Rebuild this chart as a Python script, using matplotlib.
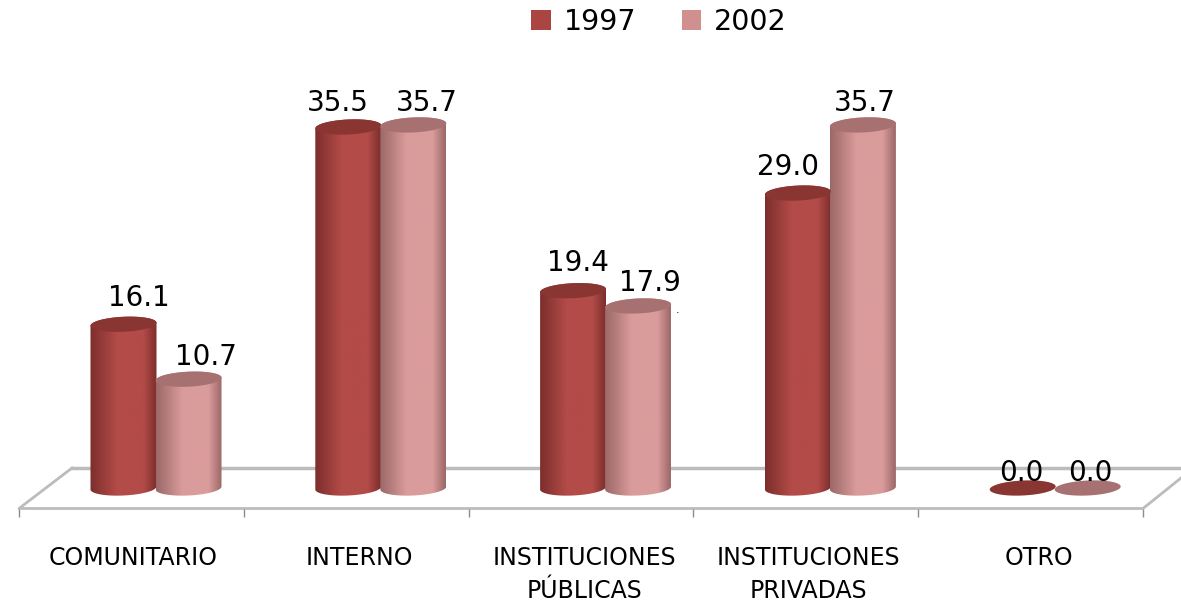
#!/usr/bin/env python3
"""3D looking cylinder chart, 1997 against 2002, by category."""
import numpy as np
import matplotlib
matplotlib.use('Agg')
import matplotlib.pyplot as plt
from matplotlib.colors import LinearSegmentedColormap
from matplotlib.patches import Patch, PathPatch
from matplotlib.path import Path
#-------------------------------------------------------------------------#
# Data                                                                    #
#-------------------------------------------------------------------------#
categories  = ['COMUNITARIO', 'INTERNO', 'INSTITUCIONES\nPÚBLICAS',
               'INSTITUCIONES\nPRIVADAS', 'OTRO']
years       = ['1997', '2002']
values_1997 = [16.1, 35.5, 19.4, 29.0, 0.0]
values_2002 = [10.7, 35.7, 17.9, 35.7, 0.0]
#-------------------------------------------------------------------------#
# Layout and style                                                        #
#-------------------------------------------------------------------------#
W, H        = 1181, 603
GROUP_PX    = 224.8         # px per category
UNIT_PX     = 10.17         # px per value unit
X0_PX       = 156.0         # px of first category
Y0_PX       = 488.0         # px of value zero
BAR_W       = 65.0/GROUP_PX
ELL_A       = 33.0/GROUP_PX
ELL_B       = 7.5/UNIT_PX
ELL_S       = 1.5/UNIT_PX   # tilt of the ellipses
# label nudges in px, (1997 then 2002) per category
label_dx    = [[15, 17], [-10, 14], [5, 12], [-10, 2], [-1, 3]]
label_dy    = [[26, 22], [24, 22], [28, 23], [26, 22], [15, 15]]
cat_dx      = [-23, -21, -21, -22, -16]
colors = [
    {'edge': '#7c2e2c', 'mid': '#b34b48', 'top': '#893633', 'key': '#ab4542'},
    {'edge': '#9c6868', 'mid': '#da9b9b', 'top': '#a87171', 'key': '#d09090'},
]
GREY        = '#bcbcbc'

plt.rcParams['font.family'] = 'DejaVu Sans'


def px_x(px):
    return (px - X0_PX)/GROUP_PX


def px_y(px):
    return (Y0_PX - px)/UNIT_PX


def ellipse(cx, y0, t):
    return cx + ELL_A*np.cos(t), y0 + ELL_B*np.sin(t) + ELL_S*np.cos(t)


def draw_cylinder(ax, cx, value, col):
    """ Body with a horizontal gradient, then the top ellipse """
    if value > 0:
        xb, yb = ellipse(cx, 0.0, np.linspace(0, -np.pi, 40))
        xt, yt = ellipse(cx, value, np.linspace(np.pi, 0, 40))
        verts = np.column_stack([np.r_[xb, xt], np.r_[yb, yt]])
        clip = PathPatch(Path(np.vstack([verts, verts[0]]), closed=True),
                         transform=ax.transData, fc='none', ec='none')
        ax.add_patch(clip)
        cmap = LinearSegmentedColormap.from_list(
            'body', [(0.0, col['edge']), (0.4, col['mid']),
                     (0.8, col['mid']), (1.0, col['edge'])])
        grad = np.linspace(0, 1, 128).reshape(1, -1)
        im = ax.imshow(grad, cmap=cmap, aspect='auto', zorder=3,
                       extent=[cx - ELL_A, cx + ELL_A, -2, value + 2],
                       interpolation='bilinear')
        im.set_clip_path(clip)
    xt, yt = ellipse(cx, value, np.linspace(0, 2*np.pi, 80))
    ax.fill(xt, yt, color=col['top'], lw=0, zorder=4)


#-------------------------------------------------------------------------#
# Main                                                                    #
#-------------------------------------------------------------------------#
fig = plt.figure(figsize=(W/100, H/100), dpi=100)
ax  = fig.add_axes([0, 0, 1, 1])
ax.axis('off')
#-------------------------------------------------------------------------#
# Floor and ticks                                                         #
#-------------------------------------------------------------------------#
FRONT, BACK = px_y(508.5), px_y(468)
edges = px_x(19) + np.arange(len(categories) + 1)
ax.plot([px_x(72), edges[0], edges[-1], px_x(1181)],
        [BACK, FRONT, FRONT, px_y(478)], color=GREY, lw=2, zorder=1)
ax.plot([px_x(72), px_x(1181)], [BACK, BACK], color=GREY, lw=2.5, zorder=1)
ax.vlines(edges, px_y(517), FRONT, color='#8c8c8c', lw=1, zorder=1)
#-------------------------------------------------------------------------#
# Cylinders and labels                                                    #
#-------------------------------------------------------------------------#
for i, cat in enumerate(categories):
    for j, vals in enumerate([values_1997, values_2002]):
        cx = i + (j - 1)*BAR_W + BAR_W/2
        draw_cylinder(ax, cx, vals[i], colors[j])
        ax.annotate('%.1f' % vals[i], (cx, vals[i]), ha='center', va='center',
                    xytext=(label_dx[i][j]*0.72, label_dy[i][j]*0.72),
                    textcoords='offset points', fontsize=20, color='black',
                    zorder=6)
    ax.text(i + cat_dx[i]/GROUP_PX, px_y(546), cat, ha='center', va='top',
            fontsize=17, color='black', linespacing=1.45)
ax.text(px_x(678), px_y(315), '.', ha='center', va='bottom', fontsize=8)
#-------------------------------------------------------------------------#
# Legend                                                                  #
#-------------------------------------------------------------------------#
handles = [Patch(color=c['key'], lw=0, label=y) for c, y in zip(colors, years)]
ax.legend(handles=handles, loc='center', ncols=2, frameon=False, fontsize=20.5,
          bbox_to_anchor=(659/W, 1 - 22/H), handlelength=0.68,
          handleheight=0.68, handletextpad=0.45, columnspacing=1.6)

ax.set_xlim(px_x(0), px_x(W))
ax.set_ylim(px_y(H), px_y(0))
fig.savefig('out.png', dpi=100)
